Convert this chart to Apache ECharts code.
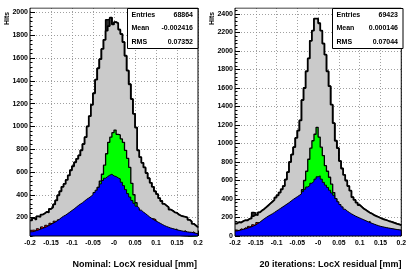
<!DOCTYPE html>
<html><head><meta charset="utf-8">
<script src="https://cdn.jsdelivr.net/npm/echarts@6/dist/echarts.min.js"></script>
<style>html,body{margin:0;padding:0;background:#fff}#c{width:409px;height:273px}</style>
</head><body><div id="c"></div>
<script>
// ---- data ----
const xMin = -0.2, xMax = 0.2, binWidth = 0.005; // 80 bins
const xTickLabels = ["-0.2","-0.15","-0.1","-0.05","-0","0.05","0.1","0.15","0.2"];
const yTicksL = [200,400,600,800,1000,1200,1400,1600,1800,2000];
const yTicksR = [0,200,400,600,800,1000,1200,1400,1600,1800,2000,2200,2400];
const titleL = "Nominal: LocX residual [mm]";
const titleR = "20 iterations: LocX residual [mm]";
const statsL = [["Entries","68864"],["Mean","-0.002416"],["RMS","0.07352"]];
const statsR = [["Entries","69423"],["Mean","0.000146"],["RMS","0.07044"]];

// left panel (Nominal)
const grayL = [175,195,180,210,205,225,235,250,245,275,290,315,350,395,430,470,495,530,570,615,
  650,685,715,745,790,845,905,1000,1090,1190,1290,1410,1510,1590,1680,1760,1840,1880,1955,1895,
  1915,1905,1850,1810,1740,1620,1490,1370,1240,1110,990,790,730,680,640,590,545,505,470,430,
  405,370,345,320,305,290,270,260,245,240,225,215,210,205,200,180,165,145,130,115];
const darkL = [175,195,180,210,205,225,235,250,245,275,290,315,350,395,430,470,495,530,570,615,
  650,685,715,745,790,845,905,1000,1090,1190,1290,1410,1510,1590,1680,1760,1935,1940,1955,1895,
  1915,1905,1850,1810,1740,1620,1490,1370,1240,1110,990,790,730,680,640,590,545,505,470,430,
  405,370,345,320,305,290,270,260,245,240,225,215,210,205,200,180,165,145,130,115];
const greenL = [40,42,45,48,50,55,58,62,66,70,75,80,86,92,100,108,116,125,135,145,
  158,170,185,200,220,240,265,290,320,350,380,420,465,520,580,660,760,860,905,945,
  968,930,925,890,860,790,720,640,500,400,330,270,245,215,190,170,150,135,120,110,
  100,92,85,78,72,66,60,56,52,48,45,42,40,38,36,34,32,30,28,26];
const redL = [88,90,80,102,92,118,105,132,120,150,140,168,160,180,190,200,210,220,230,240,
  250,260,270,280,290,300,310,320,330,340,350,360,380,400,420,440,450,460,465,460,
  455,445,435,415,395,370,345,320,300,280,260,245,230,215,205,195,182,172,190,182,
  150,138,128,120,112,105,98,94,90,100,82,78,74,85,70,68,65,75,58,55];
const blueL = [75,78,85,90,98,105,112,120,130,140,150,160,172,185,200,212,222,235,248,262,
  275,290,305,318,330,345,360,372,385,400,420,440,465,495,525,545,560,572,580,565,
  560,548,540,510,480,445,410,380,350,325,300,285,265,248,235,220,205,192,180,170,
  160,150,140,130,122,115,108,103,98,92,88,84,80,77,74,72,70,66,62,58];

// right panel (20 iterations)
const grayR = [135,150,145,160,170,168,185,190,215,230,225,255,275,290,310,330,350,370,390,415,
  440,470,505,540,610,690,800,880,960,1060,1140,1250,1470,1600,1780,1920,2110,2220,2350,2350,
  2300,2220,2080,1960,1780,1620,1420,1220,1030,950,810,730,660,600,540,490,420,390,360,335,
  315,295,280,265,250,240,225,215,205,195,185,178,170,162,155,148,140,132,125,118];
const darkR = [135,150,145,160,170,168,185,190,255,250,225,255,275,290,310,330,350,370,390,415,
  440,470,505,540,610,690,800,880,960,1060,1140,1250,1470,1600,1780,1920,2110,2220,2350,2350,
  2300,2220,2080,1960,1780,1620,1420,1220,1030,950,810,730,660,600,540,490,420,390,360,335,
  315,295,280,265,250,240,225,215,205,195,185,178,170,162,155,148,140,132,125,118];
const greenR = [30,32,34,36,38,40,43,46,50,54,58,62,66,70,76,82,88,95,102,110,
  120,130,142,155,170,190,215,245,280,330,380,430,500,600,700,830,950,1030,1100,1175,
  1070,960,870,760,700,635,560,470,400,340,290,250,215,185,160,140,122,108,96,86,
  78,70,64,58,53,49,45,42,39,36,34,32,30,28,26,25,24,23,22,21];
const redR = [65,58,78,70,90,82,104,96,122,112,146,140,160,175,185,200,212,222,235,248,
  260,272,285,298,310,322,335,348,360,372,385,398,410,425,440,455,470,485,500,515,
  520,500,480,460,440,415,390,370,345,320,300,280,262,246,232,220,210,198,190,180,
  170,160,152,142,160,128,120,112,105,98,94,89,85,80,77,73,70,66,63,60];
const blueR = [55,60,66,72,78,85,92,100,110,120,135,150,168,185,200,215,228,240,255,270,
  285,300,315,330,345,360,378,395,410,425,440,455,480,505,530,545,570,590,615,640,
  650,615,580,550,525,495,465,440,405,370,340,315,290,270,255,240,228,215,205,195,
  185,175,165,155,145,137,128,120,112,105,100,95,90,86,82,78,74,70,67,64];

// ---- build ----
const FONT = '"Liberation Sans", Arial, Helvetica, sans-serif';
function stepData(vals){
  const pts = [];
  for (let i = 0; i < vals.length; i++) pts.push([xMin + i*binWidth, vals[i]]);
  pts.push([xMax, vals[vals.length-1]]);
  return pts;
}
function histSeries(vals, fill, lw, xi, yi, z){
  return {type:'line', xAxisIndex:xi, yAxisIndex:yi, data:stepData(vals), step:'end',
    symbol:'none', showSymbol:false, silent:true, animation:false, z:z,
    label:{show:false}, endLabel:{show:false}, emphasis:{disabled:true},
    lineStyle:{color:'#000', width:lw}, areaStyle:{color:fill, opacity:1, origin:'start'}};
}
function xAxisCfg(gi){
  return {type:'value', gridIndex:gi, min:xMin, max:xMax, interval:0.05,
    axisLine:{show:false, onZero:false},
    axisTick:{show:true, inside:true, length:5, lineStyle:{color:'#000', width:1}},
    minorTick:{show:true, splitNumber:5, length:2.5, lineStyle:{color:'#000', width:1}},
    axisLabel:{color:'#000', fontFamily:FONT, fontWeight:'bold', fontSize:6.8, margin:4,
      formatter:v => xTickLabels[Math.round((v - xMin)/0.05)]},
    splitLine:{show:true, lineStyle:{color:'#888', type:[1,2], width:0.8}}};
}
function minorVals(lo, hi, step){ const a=[]; for(let v=lo; v<=hi; v+=step) a.push(v); return a; }
function yAxisCfg(gi, mn, mx, ticks){
  return {type:'value', gridIndex:gi, min:mn, max:mx,
    axisLine:{show:false, onZero:false},
    axisTick:{show:true, inside:true, length:5, customValues:ticks, lineStyle:{color:'#000', width:1}},
    axisLabel:{color:'#000', fontFamily:FONT, fontWeight:'bold', fontSize:7, margin:2, customValues:ticks,
      formatter:v => String(Math.round(v))},
    splitLine:{show:true, lineStyle:{color:'#888', type:[1,2], width:0.8}}};
}
function yMinorCfg(gi, mn, mx, vals){
  return {type:'value', gridIndex:gi, min:mn, max:mx, position:'left',
    axisLine:{show:false, onZero:false}, axisLabel:{show:false}, splitLine:{show:false},
    axisTick:{show:true, inside:true, length:2.5, customValues:vals, lineStyle:{color:'#000', width:1}}};
}
function statsGraphics(x0, rows){
  const g = [{type:'rect', shape:{x:x0, y:8.5, width:70.5, height:40}, style:{fill:'#fff', stroke:'#000', lineWidth:1}, z:100}];
  const ys = [14.7, 28.3, 41.7];
  rows.forEach((r, i) => {
    g.push({type:'text', x:x0+4, y:ys[i], z:101, style:{text:r[0], fill:'#000', font:'bold 7px ' + FONT, textAlign:'left', textVerticalAlign:'middle'}});
    g.push({type:'text', x:x0+65.5, y:ys[i], z:101, style:{text:r[1], fill:'#000', font:'bold 7px ' + FONT, textAlign:'right', textVerticalAlign:'middle'}});
  });
  return g;
}

const chart = echarts.init(document.getElementById('c'), null, {renderer:'canvas'});
const yMinL = 38, yMaxL = 2039, yMinR = 0, yMaxR = 2465;
chart.setOption({
  animation:false,
  backgroundColor:'#fff',
  grid:[
    {left:30, top:8, width:168, height:228, show:true, borderColor:'#000', borderWidth:1, backgroundColor:'transparent', z:50},
    {left:235, top:8, width:168, height:228, show:true, borderColor:'#000', borderWidth:1, backgroundColor:'transparent', z:50}
  ],
  xAxis:[xAxisCfg(0), xAxisCfg(1)],
  yAxis:[yAxisCfg(0, yMinL, yMaxL, yTicksL), yAxisCfg(1, yMinR, yMaxR, yTicksR),
         yMinorCfg(0, yMinL, yMaxL, minorVals(40, 2039, 40)), yMinorCfg(1, yMinR, yMaxR, minorVals(0, 2465, 40))],
  series:[
    histSeries(darkL, '#2a2a2a', 1.5, 0, 0, 2),
    histSeries(grayL, '#cacaca', 1.8, 0, 0, 3),
    histSeries(greenL, '#00ff00', 1.3, 0, 0, 4),
    histSeries(redL, '#ff0000', 1, 0, 0, 5),
    histSeries(blueL, '#0000ff', 1, 0, 0, 6),
    histSeries(darkR, '#2a2a2a', 1.5, 1, 1, 2),
    histSeries(grayR, '#cacaca', 1.8, 1, 1, 3),
    histSeries(greenR, '#00ff00', 1.3, 1, 1, 4),
    histSeries(redR, '#ff0000', 1, 1, 1, 5),
    histSeries(blueR, '#0000ff', 1, 1, 1, 6)
  ],
  graphic:[].concat(
    [{type:'rect', shape:{x:24, y:0, width:385, height:7.4}, style:{fill:'#fff'}, z:10000, zlevel:1}],
    statsGraphics(127.5, statsL),
    statsGraphics(332.5, statsR),
    [
      {type:'text', x:7, y:18.5, rotation:Math.PI/2, z:101, style:{text:'Hits', fill:'#000', font:'bold 6.8px ' + FONT, textAlign:'center', textVerticalAlign:'middle'}},
      {type:'text', x:212, y:18.5, rotation:Math.PI/2, z:101, style:{text:'Hits', fill:'#000', font:'bold 6.8px ' + FONT, textAlign:'center', textVerticalAlign:'middle'}},
      {type:'text', x:197, y:265, z:101, style:{text:titleL, fill:'#000', font:'bold 9px ' + FONT, textAlign:'right', textVerticalAlign:'middle'}},
      {type:'text', x:401.5, y:265, z:101, style:{text:titleR, fill:'#000', font:'bold 9px ' + FONT, textAlign:'right', textVerticalAlign:'middle'}}
    ])
});
</script></body></html>
